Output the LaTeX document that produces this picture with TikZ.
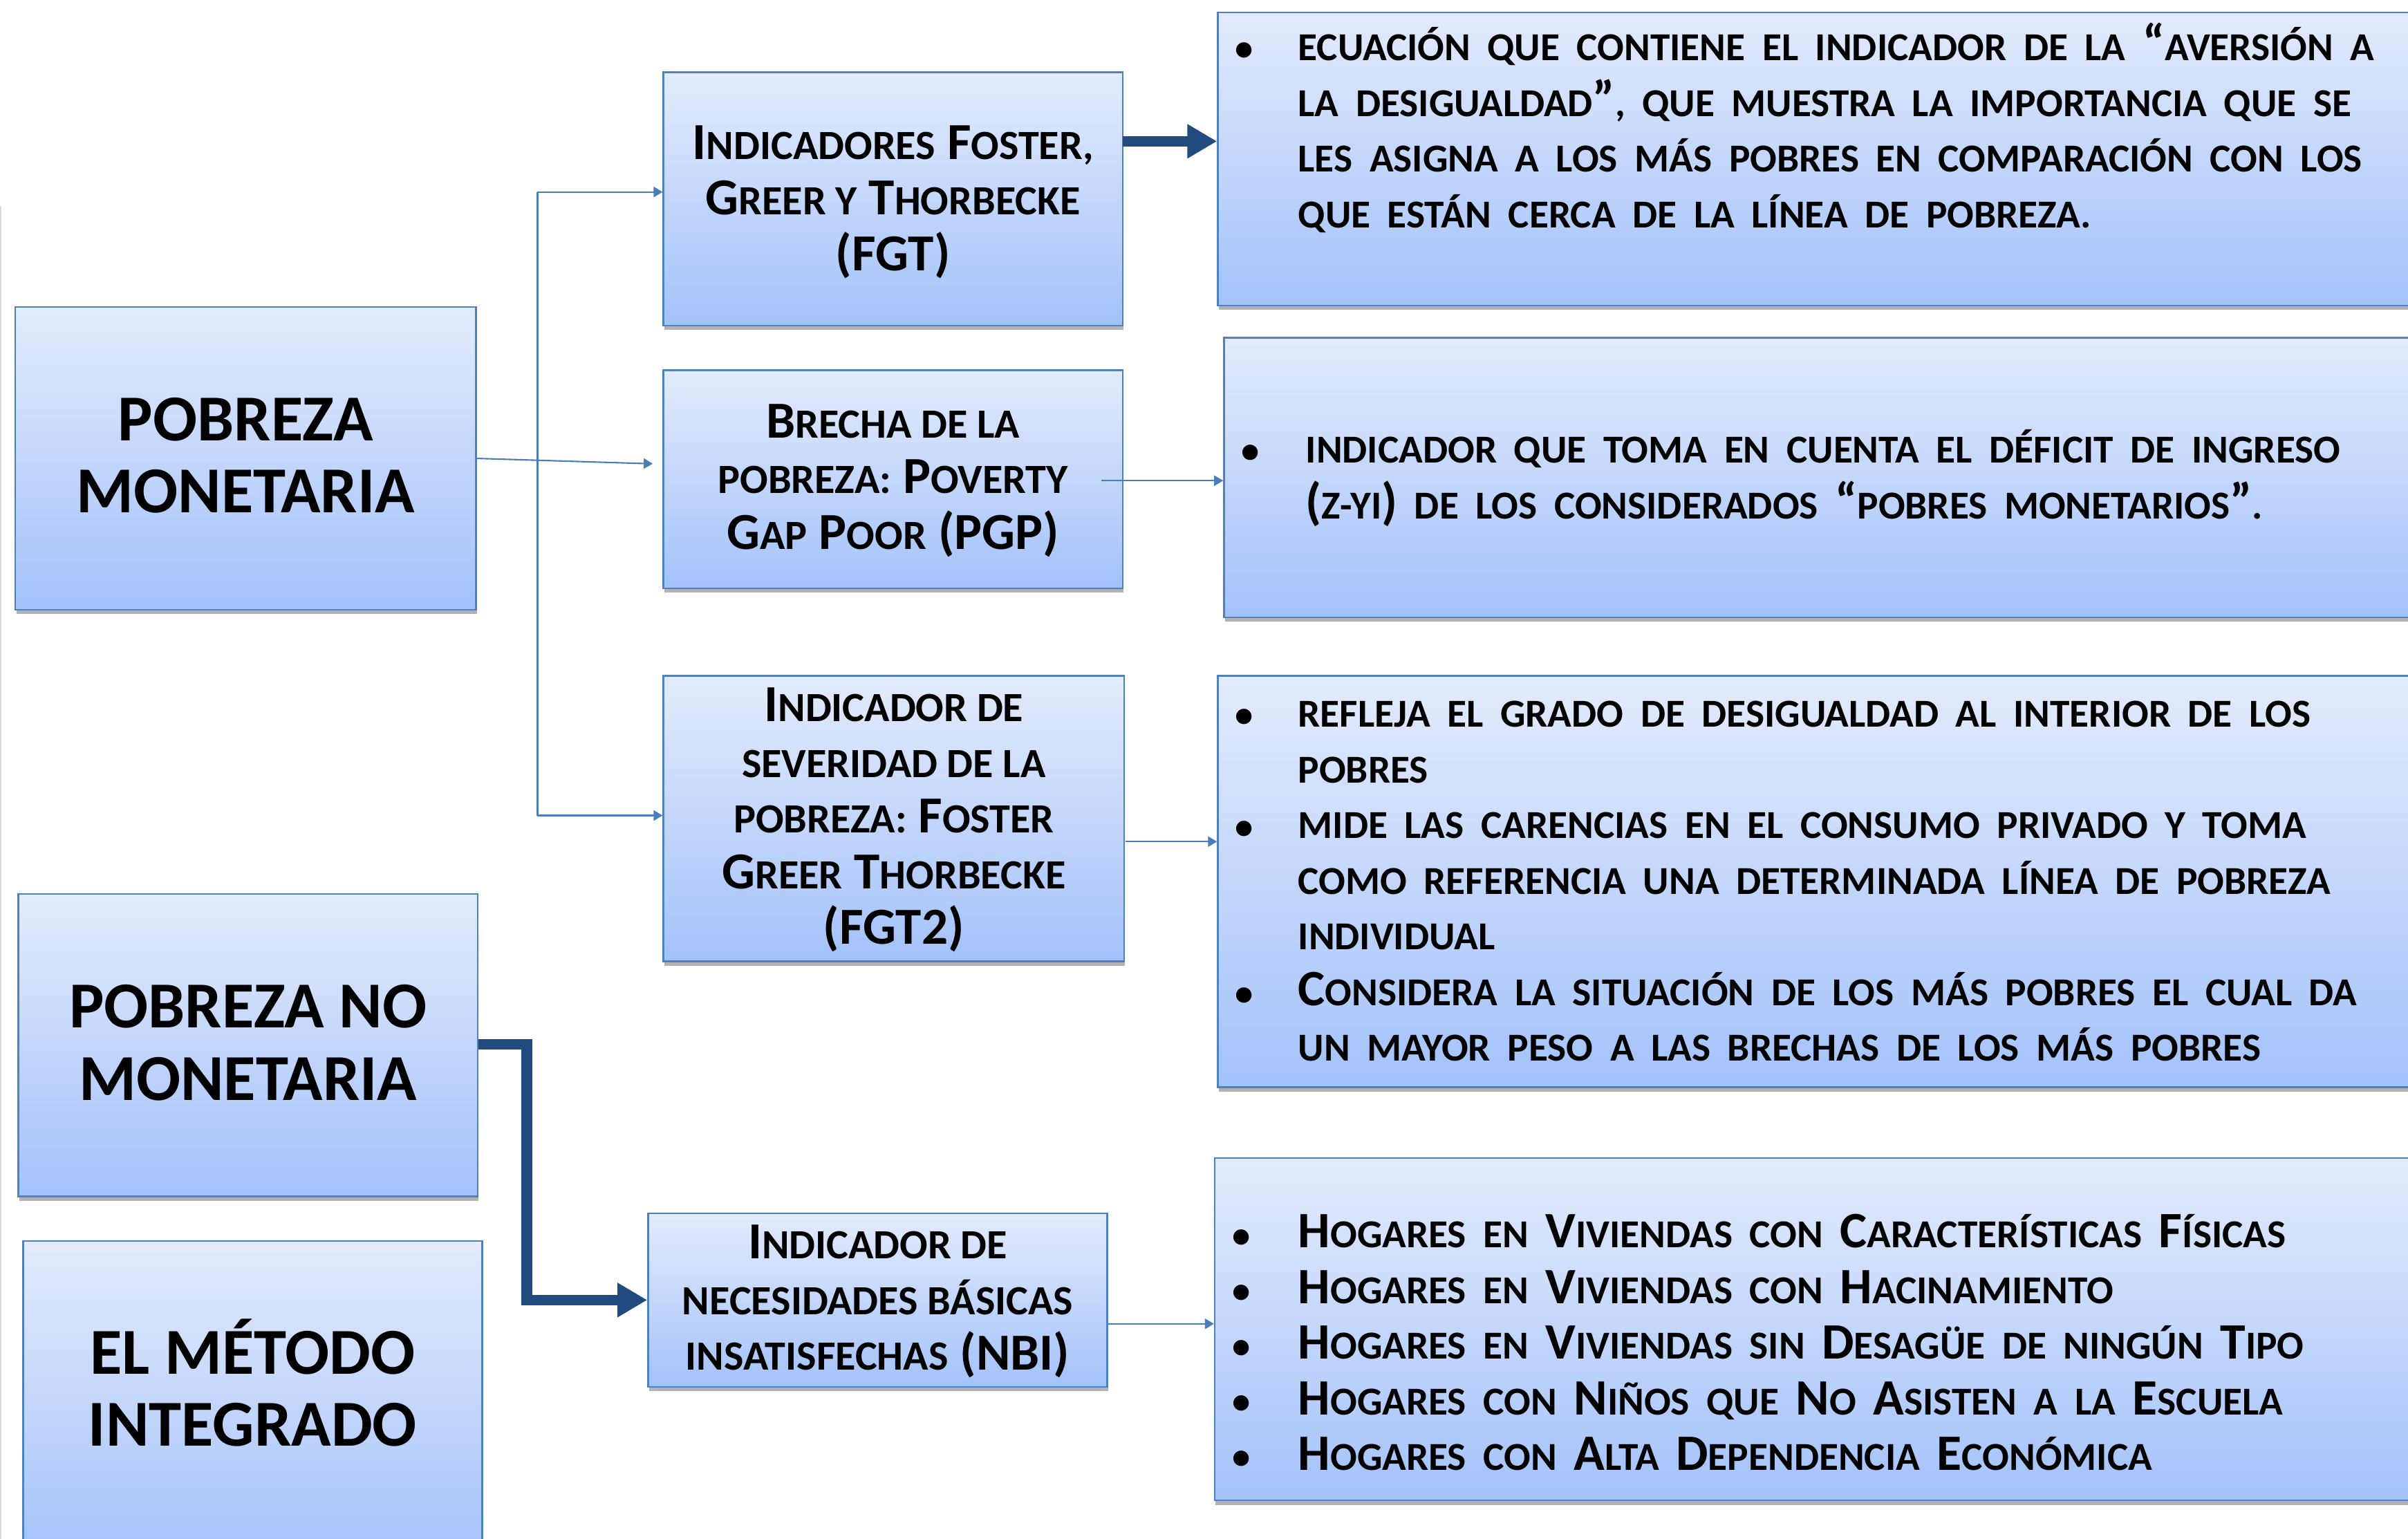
\documentclass[tikz,border=0pt]{standalone}
\usepackage{fontspec}
\setmainfont{Carlito}
\usetikzlibrary{arrows.meta,shadows,calc}
\definecolor{boxtop}{RGB}{227,235,252}
\definecolor{boxbot}{RGB}{163,194,250}
\definecolor{bordc}{RGB}{79,129,189}
\definecolor{arrc}{RGB}{74,126,187}
\definecolor{darkc}{RGB}{33,74,126}
\def\smsize{17.1}
\newcommand\bigf{\bfseries\fontsize{27}{29.7}\selectfont}
\newcommand\medf{\bfseries\fontsize{21.4}{22.9}\selectfont\def\smsize{17.1}}
\newcommand\rf{\bfseries\fontsize{21}{22.9}\selectfont\def\smsize{16.3}}
\newcommand\bulf{\bfseries\fontsize{15}{22.9}\selectfont}
\newcommand\sm[1]{{\fontsize{\smsize}{22.9}\selectfont #1}}
\def\u{0.022213cm}
\tikzset{
  box/.style={draw=bordc, line width=0.7pt, top color=boxtop, bottom color=boxbot,
    inner sep=0pt, align=center,
    drop shadow={shadow xshift=0.4pt, shadow yshift=-1.8pt, opacity=0.3, fill=black}},
  bigtxt/.style={font=\bigf, align=center, inner sep=0pt},
  medtxt/.style={font=\medf, align=center, inner sep=0pt},
  rtxt/.style={font=\rf, anchor=base west, align=left, inner sep=0pt, text width=720*\u},
  bul/.style={font=\bulf, anchor=base west, inner sep=0pt},
  thinarr/.style={draw=arrc, line width=0.6pt, -{Triangle[length=0.13cm,width=0.15cm]}},
  thinln/.style={draw=arrc, line width=0.6pt},
  thickarr/.style={draw=darkc, line width=4.4pt, -{Triangle[length=0.43cm,width=0.47cm]}},
}
\begin{document}
\begin{tikzpicture}[x=\u, y=-\u]
\clip (0,0) rectangle (1568,1002);
\fill[white] (0,0) rectangle (1568,1002);
\draw[black!15, line width=0.6pt] (0.5,134) -- (0.5,1002);
% left column
\node[box, minimum width=300*\u, minimum height=197*\u] (pm) at (160,298.5) {};
\node[bigtxt] (pmt) at (160,296.5) {POBREZA\\MONETARIA};
\node[box, minimum width=299*\u, minimum height=197*\u] (pnm) at (161.5,680.5) {};
\node[bigtxt] (pnmt) at (161.5,679) {POBREZA NO\\MONETARIA};
\node[box, minimum width=299*\u, minimum height=210*\u] (emi) at (164.5,913) {};
\node[bigtxt] (emit) at (164.5,900.5) {EL MÉTODO\\INTEGRADO};
% middle column
\node[box, minimum width=299*\u, minimum height=165*\u] (fgt) at (581.5,129.5) {};
\node[medtxt] (fgtt) at (581.5,131.5)
  {I\sm{NDICADORES} F\sm{OSTER,}\\G\sm{REER Y} T\sm{HORBECKE}\\(FGT)};
\node[box, minimum width=299*\u, minimum height=142*\u] (pgp) at (581.5,312) {};
\node[medtxt] (pgpt) at (581.5,313)
  {B\sm{RECHA DE LA}\\\sm{POBREZA:} P\sm{OVERTY}\\G\sm{AP} P\sm{OOR} (PGP)};
\node[box, minimum width=300*\u, minimum height=186*\u] (fgt2) at (582,533) {};
\node[medtxt] (fgt2t) at (582,534)
  {I\sm{NDICADOR DE}\\\sm{SEVERIDAD DE LA}\\\sm{POBREZA:} F\sm{OSTER}\\G\sm{REER} T\sm{HORBECKE}\\(FGT2)};
\node[box, minimum width=299*\u, minimum height=113*\u] (nbi) at (571.5,846.5) {};
\node[medtxt] (nbit) at (571.5,847.5)
  {I\sm{NDICADOR DE}\\\sm{NECESIDADES BÁSICAS}\\\sm{INSATISFECHAS} (NBI)};
% right column
\node[box, minimum width=787*\u, minimum height=191*\u] (r1) at (1186.5,103.5) {};
\node[box, minimum width=783*\u, minimum height=182*\u] (r2) at (1188.5,311) {};
\node[box, minimum width=787*\u, minimum height=268*\u] (r3) at (1186.5,574) {};
\node[box, minimum width=789*\u, minimum height=223*\u] (r4) at (1185.5,865.5) {};
% right texts
\node[bul] (r1b) at (804,39.5) {•};
\node[rtxt] (r1t) at (845,39.5)
  {\sm{ECUACIÓN QUE CONTIENE EL INDICADOR DE LA} “\sm{AVERSIÓN A}\\
   \sm{LA DESIGUALDAD}”\sm{, QUE MUESTRA LA IMPORTANCIA QUE SE}\\
   \sm{LES ASIGNA A LOS MÁS POBRES EN COMPARACIÓN CON LOS}\\
   \sm{QUE ESTÁN CERCA DE LA LÍNEA DE POBREZA.}};
\node[bul] (r2b) at (808,301.5) {•};
\node[rtxt] (r2t) at (850,301.5)
  {\sm{INDICADOR QUE TOMA EN CUENTA EL DÉFICIT DE INGRESO}\\
   (\sm{Z-YI}) \sm{DE LOS CONSIDERADOS} “\sm{POBRES MONETARIOS}”\sm{.}};
\node[bul] (r3b1) at (804,473.5) {•};
\node[bul] (r3b2) at (804,546.5) {•};
\node[bul] (r3b3) at (804,655) {•};
\node[rtxt] (r3t) at (845,473.5)
  {\sm{REFLEJA EL GRADO DE DESIGUALDAD AL INTERIOR DE LOS}\\
   \sm{POBRES}\\
   \sm{MIDE LAS CARENCIAS EN EL CONSUMO PRIVADO Y TOMA}\\
   \sm{COMO REFERENCIA UNA DETERMINADA LÍNEA DE POBREZA}\\
   \sm{INDIVIDUAL}\\
   C\sm{ONSIDERA LA SITUACIÓN DE LOS MÁS POBRES EL CUAL DA}\\
   \sm{UN MAYOR PESO A LAS BRECHAS DE LOS MÁS POBRES}};
\node[bul] (r4b1) at (802,812.5) {•};
\node[bul] (r4b2) at (802,848.5) {•};
\node[bul] (r4b3) at (802,884.5) {•};
\node[bul] (r4b4) at (802,920.5) {•};
\node[bul] (r4b5) at (802,956.5) {•};
\node[rtxt] (r4t) at (845,812.5)
  {H\sm{OGARES EN} V\sm{IVIENDAS CON} C\sm{ARACTERÍSTICAS} F\sm{ÍSICAS}\\
   H\sm{OGARES EN} V\sm{IVIENDAS CON} H\sm{ACINAMIENTO}\\
   H\sm{OGARES EN} V\sm{IVIENDAS SIN} D\sm{ESAGÜE DE NINGÚN} T\sm{IPO}\\
   H\sm{OGARES CON} N\sm{IÑOS QUE} N\sm{O} A\sm{SISTEN A LA} E\sm{SCUELA}\\
   H\sm{OGARES CON} A\sm{LTA} D\sm{EPENDENCIA} E\sm{CONÓMICA}};
% connectors
\coordinate (a1) at (425,302);
\draw[thinarr] (pm.east) -- (a1);
\coordinate (v1) at (350,125);
\coordinate (v2) at (350,531);
\draw[thinln] (v1) -- (v2);
\draw[thinarr] (v1) -- (v1 -| fgt.west);
\draw[thinarr] (v2) -- (v2 -| fgt2.west);
\coordinate (t1) at (731,92);
\draw[thickarr] (t1) -- (t1 -| r1.west);
\coordinate (t2) at (717,313);
\draw[thinarr] (t2) -- (t2 -| r2.west);
\coordinate (t3) at (733,548);
\draw[thinarr] (t3) -- (t3 -| r3.west);
\coordinate (t4) at (721,862);
\draw[thinarr] (t4) -- (t4 -| r4.west);
\coordinate (e1) at (343,680);
\draw[thickarr] (pnm.east |- e1) -- (e1) |- (nbi.west);
\end{tikzpicture}
\end{document}
